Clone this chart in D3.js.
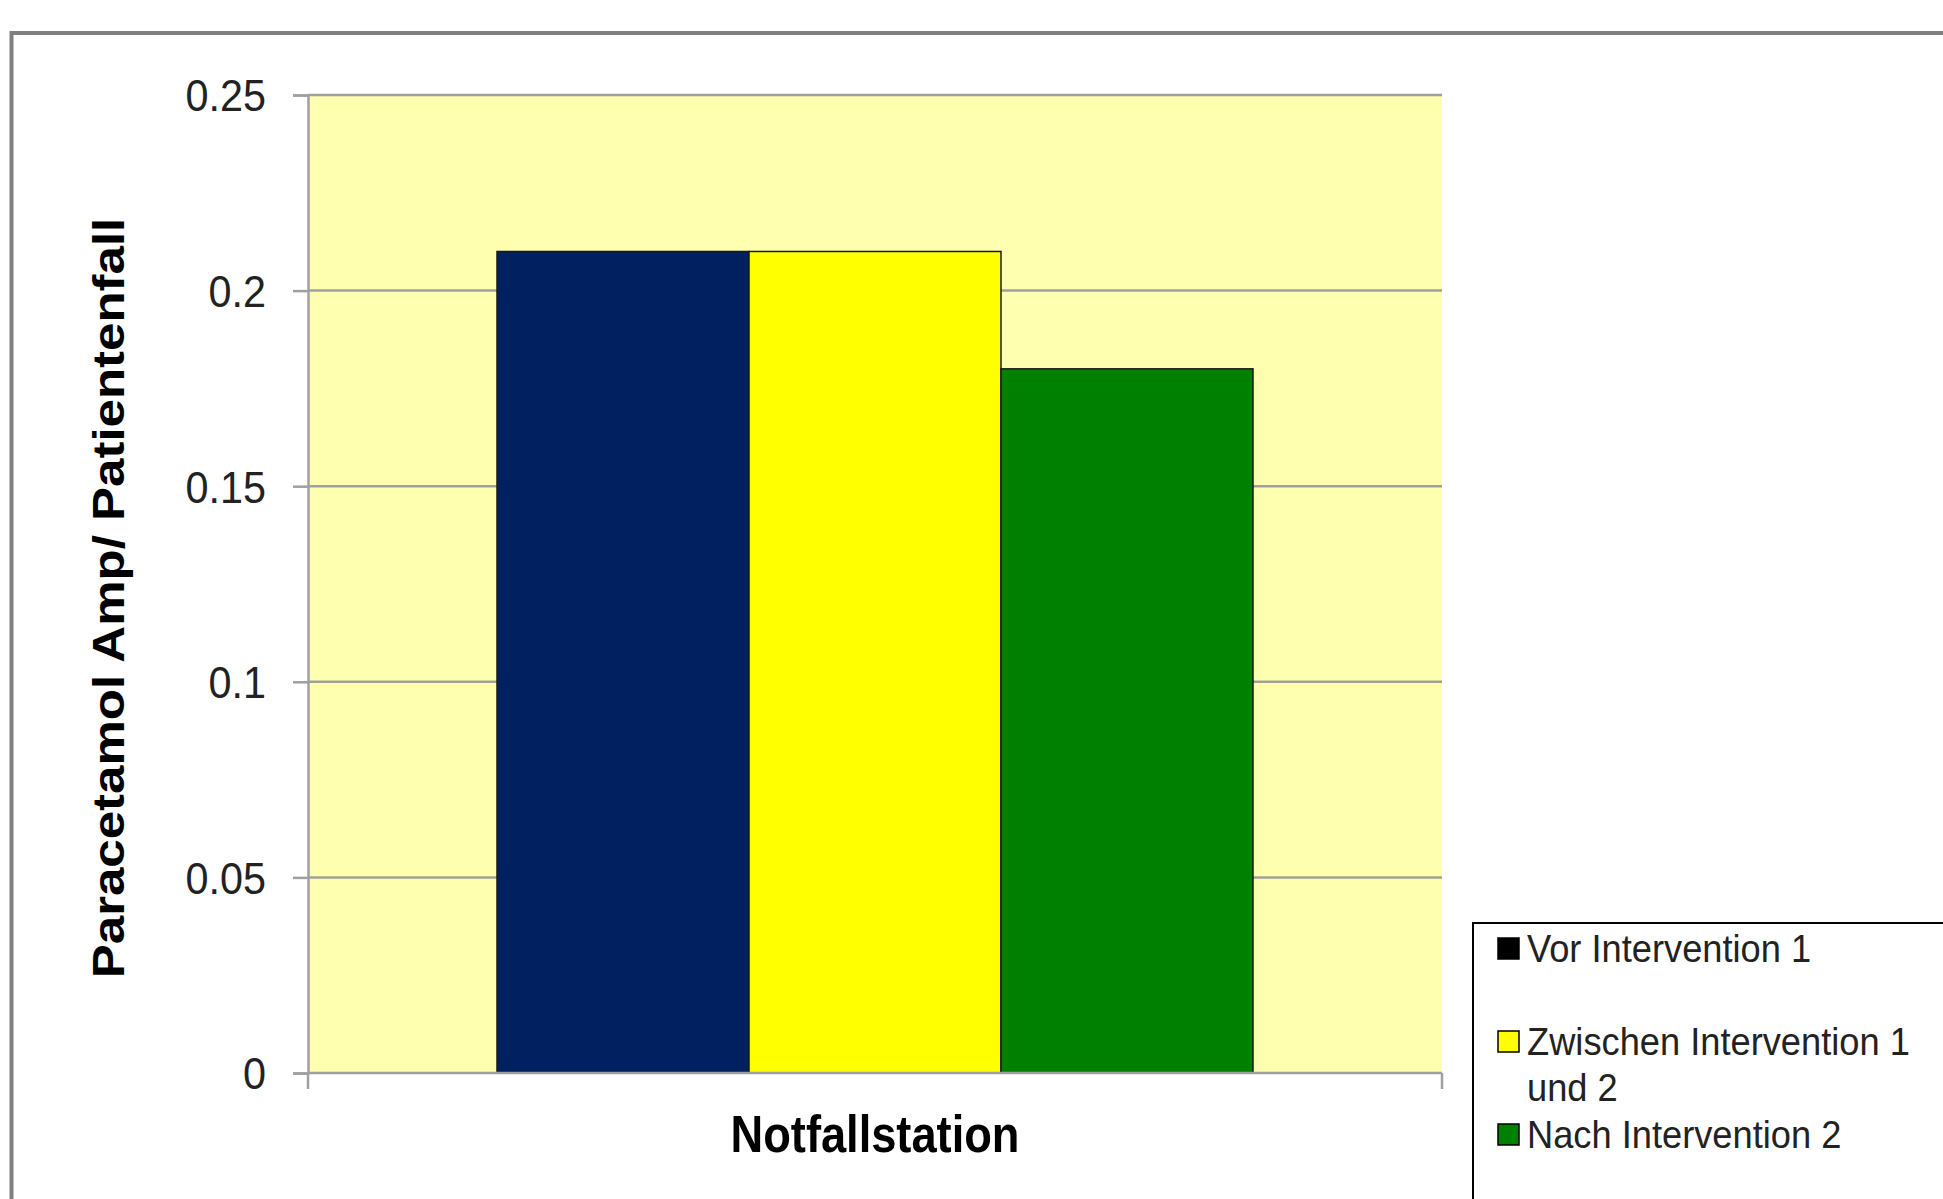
<!DOCTYPE html>
<html>
<head>
<meta charset="utf-8">
<script src="https://cdn.jsdelivr.net/npm/d3@7"></script>
<style>
  body { margin: 0; background: #fff; }
  svg { display: block; }
</style>
</head>
<body>
<script>
//// Data ////
const categories = ["Notfallstation"]
const series = ["Vor Intervention 1", "Zwischen Intervention 1 und 2", "Nach Intervention 2"]
const values = [[0.21, 0.21, 0.18]]   // one row per category
const yTicks = [0, 0.05, 0.1, 0.15, 0.2, 0.25]
const yLabel = "Paracetamol Amp/ Patientenfall"

//// Look ////
const WIDTH = 1943
const HEIGHT = 1199
const barColors = ["#00205f", "#ffff00", "#008000"]
const swatchColors = ["#000000", "#ffff00", "#008000"]
const plotBg = "#ffffb0"
const gridColor = "#a0a0a0"
const SQUEEZE = 0.87   // text in the picture is a bit narrow
const tickSqueeze = 0.94

const plot = { left: 308, right: 1442, top: 95, bottom: 1073 }

const svg = d3.select("body").append("svg")
    .attr("width", WIDTH)
    .attr("height", HEIGHT)

// outer chart frame (runs off the right and bottom)
svg.append("rect")
    .attr("x", 11.5).attr("y", 33)
    .attr("width", WIDTH + 20).attr("height", HEIGHT + 20)
    .attr("fill", "#fff")
    .attr("stroke", "#808080")
    .attr("stroke-width", 4)

const y = d3.scaleLinear()
    .domain([0, 0.25])
    .range([plot.bottom, plot.top])

const x0 = d3.scaleBand()
    .domain(categories)
    .range([plot.left, plot.right])
    .paddingInner(0)
    .paddingOuter(0.25)

const x1 = d3.scaleBand()
    .domain(series)
    .range([0, x0.bandwidth()])
    .padding(0)

// plot background
svg.append("rect")
    .attr("x", plot.left).attr("y", plot.top)
    .attr("width", plot.right - plot.left)
    .attr("height", plot.bottom - plot.top)
    .attr("fill", plotBg)

// gridlines
svg.append("g")
    .selectAll("line")
    .data(yTicks.filter(d => d > 0))
    .join("line")
    .attr("x1", plot.left).attr("x2", plot.right)
    .attr("y1", d => y(d)).attr("y2", d => y(d))
    .attr("stroke", gridColor)
    .attr("stroke-width", 2.5)

// bars
const groups = svg.append("g")
    .selectAll("g")
    .data(categories)
    .join("g")
    .attr("transform", d => `translate(${x0(d)},0)`)

groups.selectAll("rect")
    .data((d, i) => values[i].map((v, j) => ({ name: series[j], value: v, color: barColors[j] })))
    .join("rect")
    .attr("x", d => x1(d.name))
    .attr("y", d => y(d.value))
    .attr("width", x1.bandwidth())
    .attr("height", d => y(0) - y(d.value))
    .attr("fill", d => d.color)
    .attr("stroke", "#1a1a1a")
    .attr("stroke-width", 1.5)

// y axis
const yAxis = svg.append("g")
    .attr("transform", `translate(${plot.left},0)`)
    .call(d3.axisLeft(y).tickValues(yTicks).tickSize(15).tickPadding(28).tickFormat(d => String(d)))

yAxis.select(".domain").attr("stroke", gridColor).attr("stroke-width", 2.5)
yAxis.selectAll(".tick line").attr("stroke", gridColor).attr("stroke-width", 2.5)
yAxis.selectAll(".tick text")
    .attr("font-family", "Liberation Sans, Arial, sans-serif")
    .attr("font-size", 44)
    .attr("fill", "#222")
    .attr("x", -42 / tickSqueeze)
    .attr("dy", "0.36em")
    .attr("transform", `scale(${tickSqueeze},1)`)

// x axis: only the outer ticks as in the picture
const xAxis = svg.append("g")
    .attr("transform", `translate(0,${plot.bottom})`)
xAxis.append("line")
    .attr("x1", plot.left).attr("x2", plot.right)
    .attr("stroke", gridColor).attr("stroke-width", 2.5)
xAxis.selectAll(".edge")
    .data(x0.range())
    .join("line")
    .attr("class", "edge")
    .attr("x1", d => d).attr("x2", d => d)
    .attr("y1", 0).attr("y2", 16)
    .attr("stroke", gridColor).attr("stroke-width", 2.5)

// category label
svg.selectAll(".cat")
    .data(categories)
    .join("text")
    .attr("class", "cat")
    .attr("transform", d => `translate(${x0(d) + x0.bandwidth() / 2},1152) scale(${SQUEEZE},1)`)
    .attr("text-anchor", "middle")
    .attr("font-family", "Liberation Sans, Arial, sans-serif")
    .attr("font-weight", "bold")
    .attr("font-size", 52)
    .attr("fill", "#000")
    .text(d => d)

// y label
svg.append("text")
    .attr("transform", `translate(124,598) scale(${SQUEEZE},1) rotate(-90)`)
    .attr("text-anchor", "middle")
    .attr("font-family", "Liberation Sans, Arial, sans-serif")
    .attr("font-weight", "bold")
    .attr("font-size", 51)
    .attr("fill", "#000")
    .text(yLabel)

// legend box (runs off the right and bottom)
svg.append("rect")
    .attr("x", 1473).attr("y", 923)
    .attr("width", 600).attr("height", 400)
    .attr("fill", "#fff")
    .attr("stroke", "#000")
    .attr("stroke-width", 2)

const legend = svg.append("g")
const legendFont = 39
const legendSqueeze = 0.93
const maxLine = 410
series.forEach((name, i) => {
    const base = 962 + i * 93
    legend.append("rect")
        .attr("x", 1498).attr("y", base - 24)
        .attr("width", 21).attr("height", 21)
        .attr("fill", swatchColors[i])
        .attr("stroke", "#000")
        .attr("stroke-width", 1.5)

    const t = legend.append("text")
        .attr("transform", `translate(1527,${base}) scale(${legendSqueeze},1)`)
        .attr("font-family", "Liberation Sans, Arial, sans-serif")
        .attr("font-size", legendFont)
        .attr("fill", "#222")

    // wrap words like the picture does
    const words = name.split(" ")
    let line = []
    let lineNo = 0
    let tspan = t.append("tspan").attr("x", 0).attr("y", 0)
    words.forEach(w => {
        line.push(w)
        tspan.text(line.join(" "))
        if (tspan.node().getComputedTextLength() * legendSqueeze > maxLine && line.length > 1) {
            line.pop()
            tspan.text(line.join(" "))
            line = [w]
            lineNo++
            tspan = t.append("tspan").attr("x", 0).attr("y", lineNo * 46).text(w)
        }
    })
})
</script>
</body>
</html>
